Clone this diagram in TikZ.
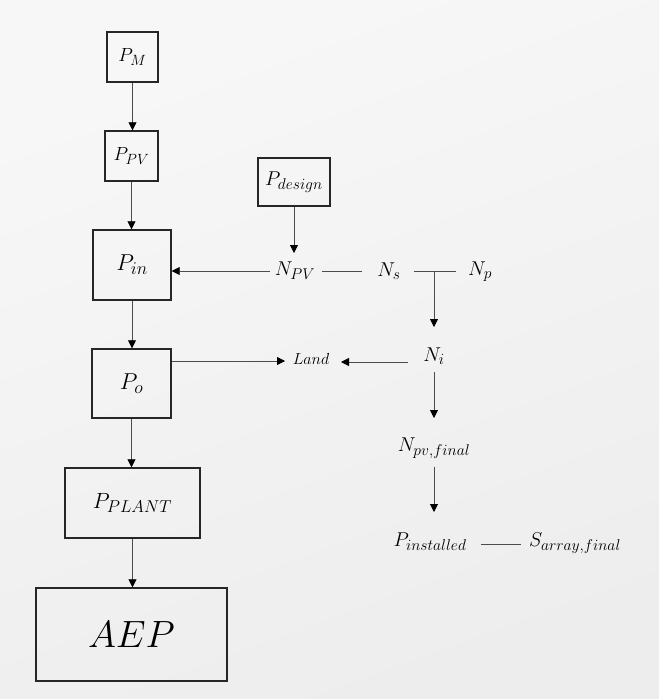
\RequirePackage{fix-cm}
\documentclass[tikz,border=0pt]{standalone}
\usepackage{amsmath}
\usetikzlibrary{arrows.meta}
\makeatletter
\def\defaultscriptratio{.78}
\makeatother
\begin{document}
\begin{tikzpicture}[x=1pt,y=-1pt,
  box/.style={draw=black!85,line width=1.4pt,minimum width=#1,inner sep=0pt},
  lbl/.style={inner sep=0pt},
  arr/.style={draw=black!70,line width=0.8pt,-{Triangle[length=8pt,width=8pt,color=black]}},
  ln/.style={draw=black!70,line width=0.8pt}]
\shade[top color=white!97!black,bottom color=white!93!black,shading angle=20] (0,0) rectangle (659,699);
\useasboundingbox (0,0) rectangle (659,699);
% left column
\node[box=51pt,minimum height=50pt] (pm) at (132.5,57) {\fontsize{19}{21}\selectfont$P_M$};
\node[box=53pt,minimum height=50pt] (ppv) at (131.5,156) {\fontsize{19}{21}\selectfont$P_{PV}$};
\node[box=78pt,minimum height=70pt] (pin) at (132,265) {\fontsize{23}{25}\selectfont$P_{in}$};
\node[box=79pt,minimum height=69pt] (po) at (131.5,383.5) {\fontsize{23}{25}\selectfont$P_{o}$};
\node[box=135pt,minimum height=70pt] (pplant) at (132.5,503) {\fontsize{22}{24}\selectfont$P_{PLANT}$};
\node[box=191pt,minimum height=93pt] (aep) at (131.5,634.5) {\fontsize{38}{42}\selectfont$AEP$};
\node[box=72pt,minimum height=48pt] (pdes) at (294,182) {\fontsize{20}{22}\selectfont$P_{design}$};
% right labels
\node[lbl] (npv) at (295,271) {\fontsize{20}{22}\selectfont$N_{PV}$};
\node[lbl] (ns) at (389,271) {\fontsize{20}{22}\selectfont$N_{s}$};
\node[lbl] (np) at (480,272) {\fontsize{20}{22}\selectfont$N_{p}$};
\node[lbl] (ni) at (434,356) {\fontsize{20}{22}\selectfont$N_{i}$};
\node[lbl] (land) at (311,359) {\fontsize{16}{18}\selectfont$Land$};
\node[lbl] (npvf) at (434,448) {\fontsize{20}{22}\selectfont$N_{pv,final}$};
\node[lbl] (pinst) at (430,542) {\fontsize{20}{22}\selectfont$P_{installed}$};
\node[lbl] (sarr) at (575,543) {\fontsize{20}{22}\selectfont$S_{array,final}$};
% connector end points
\coordinate (npvtop) at (294,253);
\coordinate (npvleft) at (270,271);
\coordinate (npvright) at (322,271);
\coordinate (nsleft) at (362,271);
\coordinate (nsright) at (414,271);
\coordinate (npleft) at (456,271);
\coordinate (tee) at (434,271);
\coordinate (nitop) at (434,327);
\coordinate (nileft) at (408,362);
\coordinate (landright) at (341,362);
\coordinate (landleft) at (285,361);
\coordinate (nibot) at (434,372);
\coordinate (npvftop) at (434,418);
\coordinate (npvfbot) at (434,467);
\coordinate (pinsttop) at (434,512);
\coordinate (pinstright) at (481,544);
\coordinate (sarrleft) at (521,544);
% connectors
\draw[arr] (pm.south) -- (pm.south |- ppv.north);
\draw[arr] (ppv.south) -- (ppv.south |- pin.north);
\draw[arr] (pin.south) -- (pin.south |- po.north);
\draw[arr] (po.south) -- (po.south |- pplant.north);
\draw[arr] (pplant.south) -- (pplant.south |- aep.north);
\draw[arr] (pdes.south) -- (npvtop);
\draw[arr] (npvleft) -- (pin.east |- npvleft);
\draw[ln] (npvright) -- (nsleft);
\draw[ln] (nsright) -- (npleft);
\draw[arr] (tee) -- (nitop);
\draw[arr] (nileft) -- (landright);
\draw[arr] (po.east |- landleft) -- (landleft);
\draw[arr] (nibot) -- (npvftop);
\draw[arr] (npvfbot) -- (pinsttop);
\draw[ln] (pinstright) -- (sarrleft);
\end{tikzpicture}
\end{document}
